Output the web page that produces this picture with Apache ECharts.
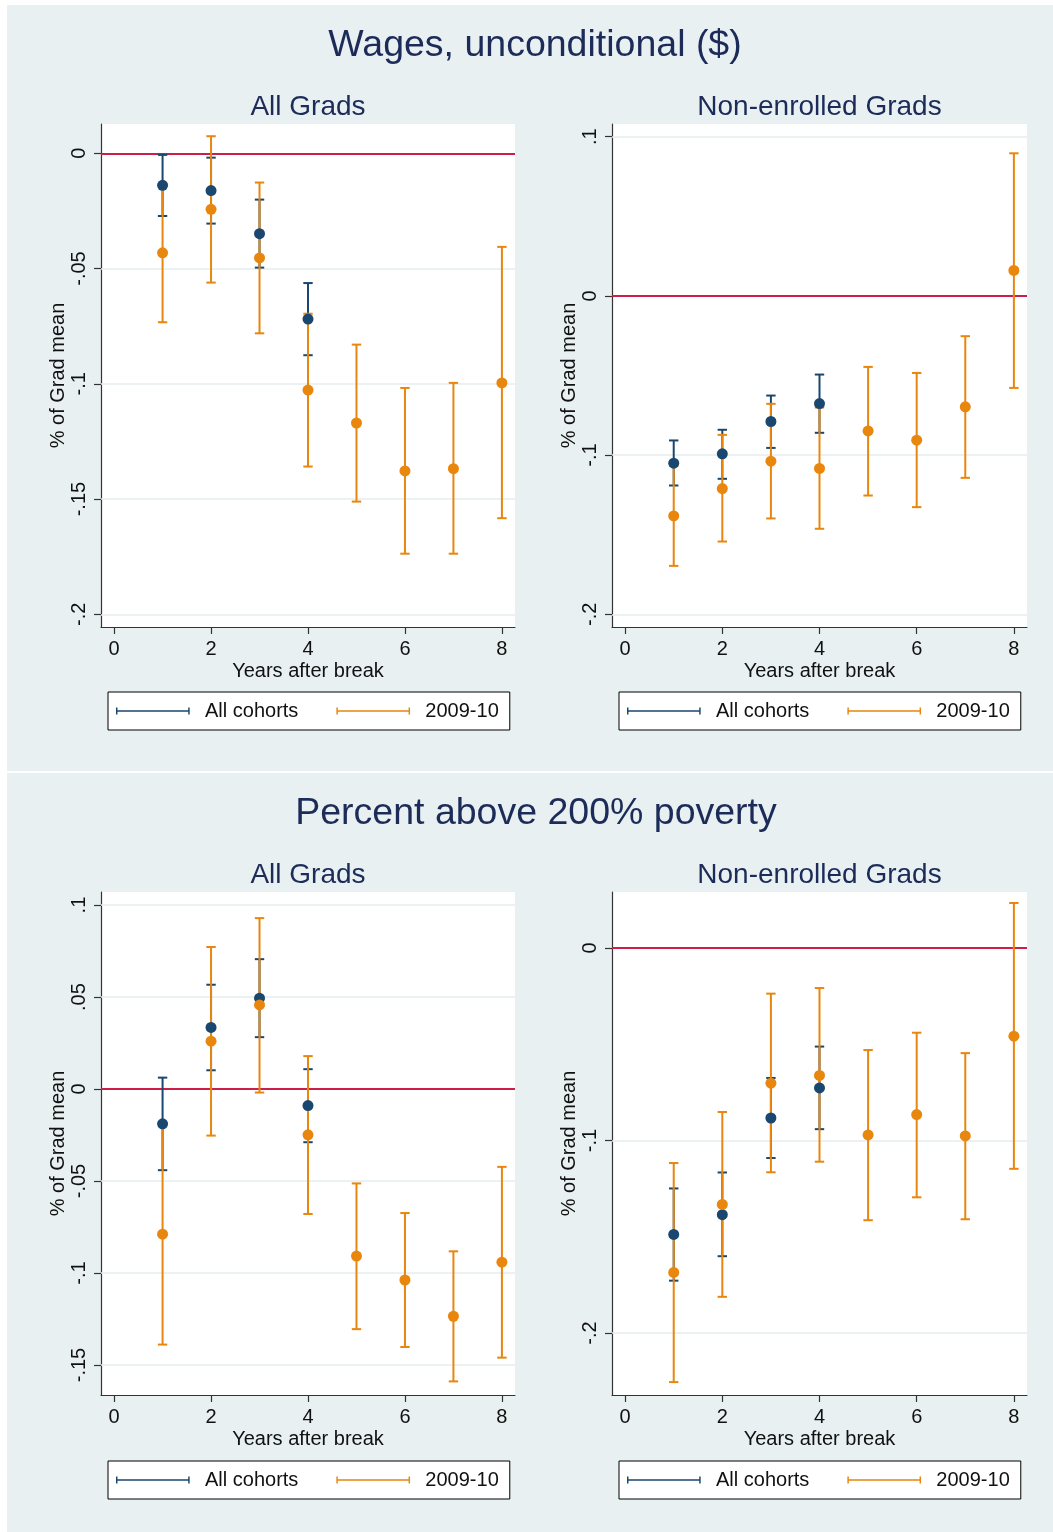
<!DOCTYPE html>
<html><head><meta charset="utf-8">
<script src="https://cdn.jsdelivr.net/npm/echarts@6/dist/echarts.min.js"></script>
<style>html,body{margin:0;padding:0;background:#fff}#c{width:1053px;height:1532px}</style>
</head><body><div id="c"></div>
<script>
// ---------------- DATA ----------------
const yearsAll = [1, 2, 3, 4];
const years0910 = [1, 2, 3, 4, 5, 6, 7, 8];
const xTicks = [0, 2, 4, 6, 8];

// Wages, unconditional ($) — All Grads
const wagesAllGradsAllCohorts   = [-0.0139, -0.0162, -0.0349, -0.0719];
const wagesAllGradsAllCohortsLo = [-0.0272, -0.0305, -0.0496, -0.0876];
const wagesAllGradsAllCohortsHi = [-0.0007, -0.0019, -0.0201, -0.0563];
const wagesAllGrads0910   = [-0.0432, -0.0243, -0.0454, -0.1027, -0.1170, -0.1378, -0.1368, -0.0996];
const wagesAllGrads0910Lo = [-0.0733, -0.0561, -0.0781, -0.1359, -0.1511, -0.1737, -0.1737, -0.1583];
const wagesAllGrads0910Hi = [-0.0132,  0.0074, -0.0127, -0.0696, -0.0830, -0.1018, -0.0996, -0.0406];
const yTicksWagesAll = [-0.2, -0.15, -0.1, -0.05, 0];

// Wages, unconditional ($) — Non-enrolled Grads
const wagesNonAllCohorts   = [-0.1051, -0.0992, -0.0789, -0.0676];
const wagesNonAllCohortsLo = [-0.1191, -0.1149, -0.0955, -0.0860];
const wagesNonAllCohortsHi = [-0.0908, -0.0841, -0.0626, -0.0494];
const wagesNon0910   = [-0.1382, -0.1210, -0.1038, -0.1084, -0.0848, -0.0906, -0.0697,  0.0160];
const wagesNon0910Lo = [-0.1696, -0.1543, -0.1398, -0.1463, -0.1254, -0.1327, -0.1143, -0.0578];
const wagesNon0910Hi = [-0.1068, -0.0873, -0.0678, -0.0701, -0.0446, -0.0484, -0.0253,  0.0896];
const yTicksWagesNon = [-0.2, -0.1, 0, 0.1];

// Percent above 200% poverty — All Grads
const povAllGradsAllCohorts   = [-0.0189, 0.0335, 0.0494, -0.0090];
const povAllGradsAllCohortsLo = [-0.0441, 0.0102, 0.0282, -0.0289];
const povAllGradsAllCohortsHi = [ 0.0062, 0.0567, 0.0706,  0.0108];
const povAllGrads0910   = [-0.0789,  0.0260,  0.0457, -0.0249, -0.0908, -0.1038, -0.1235, -0.0941];
const povAllGrads0910Lo = [-0.1389, -0.0253, -0.0019, -0.0679, -0.1305, -0.1402, -0.1589, -0.1460];
const povAllGrads0910Hi = [-0.0189,  0.0772,  0.0929,  0.0179, -0.0513, -0.0674, -0.0882, -0.0423];
const yTicksPovAll = [-0.15, -0.1, -0.05, 0, 0.05, 0.1];

// Percent above 200% poverty — Non-enrolled Grads
const povNonAllCohorts   = [-0.1488, -0.1385, -0.0883, -0.0727];
const povNonAllCohortsLo = [-0.1728, -0.1601, -0.1091, -0.0941];
const povNonAllCohortsHi = [-0.1249, -0.1166, -0.0675, -0.0512];
const povNon0910   = [-0.1685, -0.1332, -0.0702, -0.0662, -0.0971, -0.0865, -0.0976, -0.0458];
const povNon0910Lo = [-0.2255, -0.1812, -0.1165, -0.1110, -0.1414, -0.1295, -0.1409, -0.1147];
const povNon0910Hi = [-0.1117, -0.0852, -0.0237, -0.0208, -0.0530, -0.0440, -0.0546,  0.0234];
const yTicksPovNon = [-0.2, -0.1, 0];

const seriesNames = ['All cohorts', '2009-10'];
const sectionTitles = ['Wages, unconditional ($)', 'Percent above 200% poverty'];
const panelTitles = ['All Grads', 'Non-enrolled Grads'];

// ---------------- STYLE / LAYOUT ----------------
const FONT = '"Liberation Sans", Arial, Helvetica, sans-serif';
const NAVY = '#1a476f', ORANGE = '#e8860d', RED = '#cc1f48', BG = '#e8f0f2', TITLE = '#1c2b58', GRIDC = '#e6eef1';
const FS = 20;

const panels = [
  { grid: {left: 101, top: 124, width: 414, height: 503}, yr: [-0.2055, 0.0127], yTicks: yTicksWagesAll,
    a: [wagesAllGradsAllCohorts, wagesAllGradsAllCohortsLo, wagesAllGradsAllCohortsHi],
    b: [wagesAllGrads0910, wagesAllGrads0910Lo, wagesAllGrads0910Hi], legendTop: 692 },
  { grid: {left: 612, top: 124, width: 415, height: 503}, yr: [-0.208, 0.108], yTicks: yTicksWagesNon,
    a: [wagesNonAllCohorts, wagesNonAllCohortsLo, wagesNonAllCohortsHi],
    b: [wagesNon0910, wagesNon0910Lo, wagesNon0910Hi], legendTop: 692 },
  { grid: {left: 101, top: 892, width: 414, height: 503}, yr: [-0.1663, 0.1071], yTicks: yTicksPovAll,
    a: [povAllGradsAllCohorts, povAllGradsAllCohortsLo, povAllGradsAllCohortsHi],
    b: [povAllGrads0910, povAllGrads0910Lo, povAllGrads0910Hi], legendTop: 1461 },
  { grid: {left: 612, top: 892, width: 415, height: 503}, yr: [-0.2322, 0.0291], yTicks: yTicksPovNon,
    a: [povNonAllCohorts, povNonAllCohortsLo, povNonAllCohortsHi],
    b: [povNon0910, povNon0910Lo, povNon0910Hi], legendTop: 1461 }
];

function fmt(v) {
  if (Math.abs(v) < 1e-9) return '0';
  return String(+(+v).toFixed(4)).replace(/^(-?)0\./, '$1.');
}

function ciRender(params, api) {
  const x = api.value(0), lo = api.value(1), hi = api.value(2);
  const p1 = api.coord([x, lo]), p2 = api.coord([x, hi]);
  const hw = 4.7;
  const style = { stroke: api.visual('color'), lineWidth: 2, opacity: api.visual('opacity') };
  return { type: 'group', children: [
    { type: 'line', shape: { x1: p1[0], y1: p1[1], x2: p2[0], y2: p2[1] }, style },
    { type: 'line', shape: { x1: p1[0] - hw, y1: p1[1], x2: p1[0] + hw, y2: p1[1] }, style },
    { type: 'line', shape: { x1: p2[0] - hw, y1: p2[1], x2: p2[0] + hw, y2: p2[1] }, style }
  ]};
}

const legendIcon = 'path://M0,0H2V10H0Z M0,4H100V6H0Z M98,0H100V10H98Z M114,5H114.01V5.01H114Z';

const grid = [], xAxis = [], yAxis = [], series = [], legend = [];
panels.forEach((p, i) => {
  grid.push(Object.assign({ show: true, backgroundColor: '#fff', borderWidth: 0, containLabel: false }, p.grid));
  xAxis.push({
    type: 'value', gridIndex: i, min: -0.27, max: 8.27,
    axisLine: { show: true, onZero: false, lineStyle: { color: '#333', width: 1.2 } },
    axisTick: { show: true, length: 7, customValues: xTicks, lineStyle: { color: '#333', width: 1.2 } },
    axisLabel: { customValues: xTicks, margin: 12, fontSize: FS, color: '#111', fontFamily: FONT, formatter: v => String(v) },
    splitLine: { show: false },
    name: 'Years after break', nameLocation: 'middle', nameGap: 34,
    nameTextStyle: { fontSize: FS, color: '#111', fontFamily: FONT }
  });
  yAxis.push({
    type: 'value', gridIndex: i, min: p.yr[0], max: p.yr[1],
    axisLine: { show: true, onZero: false, lineStyle: { color: '#333', width: 1.2 } },
    axisTick: { show: true, length: 7, customValues: p.yTicks, lineStyle: { color: '#333', width: 1.2 } },
    axisLabel: { customValues: p.yTicks, rotate: 90, margin: 12, fontSize: FS, color: '#111', fontFamily: FONT, formatter: fmt },
    splitLine: { show: false },
    name: '% of Grad mean', nameLocation: 'middle', nameRotate: 90, nameGap: 33,
    nameTextStyle: { fontSize: FS, color: '#111', fontFamily: FONT }
  });
  const gridLines = p.yTicks.map(v => ({ yAxis: v, lineStyle: { color: GRIDC, width: 1.5, type: 'solid' } }));
  gridLines.push({ yAxis: 0, lineStyle: { color: RED, width: 2, type: 'solid' } });
  series.push({
    type: 'custom', name: seriesNames[0], xAxisIndex: i, yAxisIndex: i,
    itemStyle: { color: NAVY }, renderItem: ciRender,
    encode: { x: 0, y: [1, 2] },
    data: yearsAll.map((x, k) => [x, p.a[1][k], p.a[2][k]]),
    markLine: { silent: true, symbol: ['none', 'none'], label: { show: false }, animation: false, z: 1, data: gridLines },
    animation: false
  });
  series.push({
    type: 'custom', name: seriesNames[1], xAxisIndex: i, yAxisIndex: i,
    itemStyle: { color: ORANGE, opacity: 0.88 }, renderItem: ciRender,
    encode: { x: 0, y: [1, 2] },
    data: years0910.map((x, k) => [x, p.b[1][k], p.b[2][k]]),
    animation: false
  });
  series.push({
    type: 'scatter', name: seriesNames[0], xAxisIndex: i, yAxisIndex: i,
    symbol: 'circle', symbolSize: 11, itemStyle: { color: NAVY, opacity: 1 },
    data: yearsAll.map((x, k) => [x, p.a[0][k]]), animation: false
  });
  series.push({
    type: 'scatter', name: seriesNames[1], xAxisIndex: i, yAxisIndex: i,
    symbol: 'circle', symbolSize: 11, itemStyle: { color: ORANGE, opacity: 1 },
    data: years0910.map((x, k) => [x, p.b[0][k]]), animation: false
  });
  legend.push({
    left: p.grid.left + 7, top: p.legendTop, orient: 'horizontal',
    backgroundColor: '#fff', borderColor: '#000', borderWidth: 1, borderRadius: 0,
    padding: [9, 11, 9, 8], itemGap: 38, itemWidth: 84, itemHeight: 7, symbolKeepAspect: false,
    selectedMode: false,
    textStyle: { fontSize: FS, color: '#111', fontFamily: FONT },
    data: [
      { name: seriesNames[0], icon: legendIcon, itemStyle: { color: NAVY, borderWidth: 0, opacity: 1 } },
      { name: seriesNames[1], icon: legendIcon, itemStyle: { color: ORANGE, borderWidth: 0, opacity: 1 } }
    ]
  });
});

const graphicEls = [
  { type: 'rect', z: -100, shape: { x: 7, y: 5, width: 1046, height: 766 }, style: { fill: BG } },
  { type: 'rect', z: -100, shape: { x: 7, y: 773, width: 1046, height: 759 }, style: { fill: BG } },
  { type: 'text', x: 535, y: 46, style: { text: sectionTitles[0], fill: TITLE, font: '37.5px ' + FONT, align: 'center', verticalAlign: 'middle' } },
  { type: 'text', x: 536, y: 814, style: { text: sectionTitles[1], fill: TITLE, font: '37.5px ' + FONT, align: 'center', verticalAlign: 'middle' } }
];
panels.forEach((p, i) => {
  graphicEls.push({ type: 'text', x: p.grid.left + p.grid.width / 2, y: p.grid.top - 17,
    style: { text: panelTitles[i % 2], fill: TITLE, font: '28px ' + FONT, align: 'center', verticalAlign: 'middle' } });
});

const chart = echarts.init(document.getElementById('c'), null, { renderer: 'canvas' });
chart.setOption({
  backgroundColor: 'transparent',
  animation: false,
  graphic: { elements: graphicEls },
  grid, xAxis, yAxis, series, legend
});
</script>
</body></html>
